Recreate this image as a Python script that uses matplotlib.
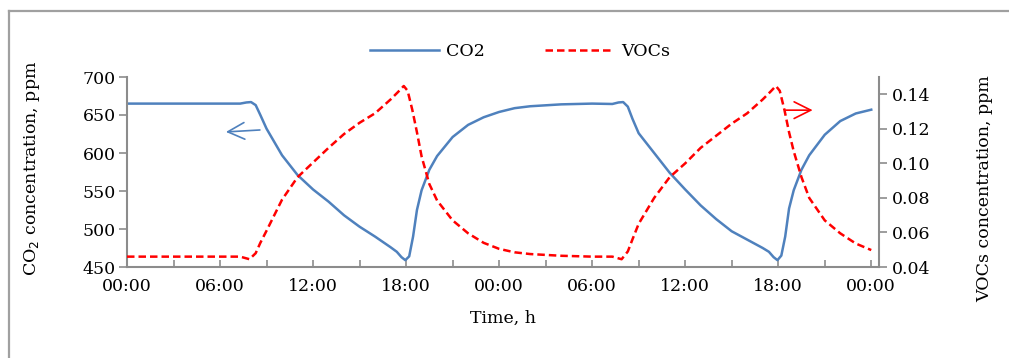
import numpy as np
import matplotlib
matplotlib.use("Agg")
import matplotlib.pyplot as plt
import matplotlib.ticker as ticker
from matplotlib.lines import Line2D

# time in hours from start, two days
co2_time = [0, 7.3, 7.7, 8.0, 8.3, 8.6, 9, 10, 11, 12, 13, 14, 15, 16, 17, 17.4, 17.7, 17.95,
            18.2, 18.45, 18.7, 19, 19.5, 20, 21, 22, 23, 24, 25, 26, 28, 30, 31.3, 31.7, 32.0,
            32.3, 32.6, 33, 34, 35, 36, 37, 38, 39, 40, 41, 41.4, 41.7, 41.95, 42.2, 42.45,
            42.7, 43, 43.5, 44, 45, 46, 47, 48]
co2_ppm = [665, 665, 666.5, 667, 663, 650, 632, 597, 571, 552, 536, 518, 503, 490, 476, 470, 463, 459,
           464, 490, 525, 551, 578, 596, 621, 637, 647, 654, 659, 661.5, 664, 665, 664.5, 666.5, 667,
           661, 645, 626, 600, 574, 552, 531, 513, 497, 486, 475, 470, 463, 459, 465, 490,
           527, 551, 578, 597, 624, 642, 652, 657]

voc_time = [0, 7.3, 7.9, 8.3, 8.6, 9, 10, 11, 12, 13, 14, 15, 16, 17, 17.5, 17.85, 18.1, 18.4,
            18.7, 19, 19.5, 20, 21, 22, 23, 24, 25, 26, 28, 30, 31.3, 31.9, 32.3, 32.6, 33, 34,
            35, 36, 37, 38, 39, 40, 41, 41.5, 41.85, 42.1, 42.4, 42.7, 43, 43.5, 44, 45, 46, 47, 48]
voc_ppm = [0.046, 0.046, 0.0445, 0.048, 0.054, 0.061, 0.079, 0.092, 0.1005, 0.109, 0.117, 0.1235,
           0.129, 0.137, 0.1415, 0.1448, 0.142, 0.131, 0.118, 0.104, 0.088, 0.0785, 0.067, 0.0595,
           0.054, 0.0505, 0.0485, 0.0475, 0.0465, 0.046, 0.046, 0.0445, 0.049, 0.056, 0.065, 0.080,
           0.092, 0.100, 0.109, 0.116, 0.123, 0.129, 0.137, 0.1415, 0.1448, 0.142, 0.131, 0.118,
           0.107, 0.092, 0.080, 0.067, 0.0595, 0.0536, 0.0498]

x_ticks = [0, 6, 12, 18, 24, 30, 36, 42, 48]
x_labels = ["00:00", "06:00", "12:00", "18:00", "00:00", "06:00", "12:00", "18:00", "00:00"]
co2_ticks = [450, 500, 550, 600, 650, 700]
voc_ticks = [0.04, 0.06, 0.08, 0.10, 0.12, 0.14]

BLUE = "#4F81BD"
RED = "#FF0000"
GREY = "#8C8C8C"

plt.rcParams["font.family"] = ["DejaVu Serif"]
plt.rcParams["font.size"] = 12.5

fig = plt.figure(figsize=(10.09, 3.58), dpi=100)
ax = fig.add_axes([127 / 1009, 1 - 267 / 358, 752 / 1009, 190 / 358])
ax2 = ax.twinx()

l1, = ax.plot(co2_time, co2_ppm, color=BLUE, lw=1.8, label="CO2")
l2, = ax2.plot(voc_time, voc_ppm, color=RED, lw=1.8, ls=(0, (3, 1.6)), label="VOCs")

ax.set_xlim(0, 48.5)
ax.set_ylim(450, 700)
ax2.set_ylim(0.04, 0.15)

ax.set_xticks(x_ticks)
ax.set_xticklabels(x_labels)
ax.xaxis.set_minor_locator(ticker.FixedLocator([3, 9, 15, 21, 27, 33, 39, 45]))
ax.set_yticks(co2_ticks)
ax2.set_yticks(voc_ticks)
ax2.set_yticklabels(["%.2f" % v for v in voc_ticks])

for a in (ax, ax2):
    for s in a.spines.values():
        s.set_visible(False)
ax.spines["left"].set_visible(True)
ax.spines["bottom"].set_visible(True)
ax2.spines["right"].set_visible(True)
for s in (ax.spines["left"], ax.spines["bottom"], ax2.spines["right"]):
    s.set_color(GREY)
    s.set_linewidth(1.5)

ax.tick_params(axis="x", which="both", direction="in", length=5, width=1.2, color=GREY, pad=8)
ax.tick_params(axis="y", direction="out", length=6, width=1.2, color=GREY, pad=2)
ax2.tick_params(axis="y", direction="out", length=6, width=1.2, color=GREY, pad=3)

# direction arrows
ax.annotate("", xy=(6.2, 627.5), xytext=(8.75, 630.5),
            arrowprops=dict(arrowstyle="->", color=BLUE, lw=1.2, mutation_scale=30))
ax2.annotate("", xy=(44.4, 0.1308), xytext=(42.3, 0.1308),
             arrowprops=dict(arrowstyle="->", color=RED, lw=1.2, mutation_scale=30))

fig.text(32 / 1009, 1 - 168 / 358, "CO$_2$ concentration, ppm", rotation=90,
         ha="center", va="center", fontsize=12.5)
fig.text(985 / 1009, 1 - 189 / 358, "VOCs concentration, ppm", rotation=90,
         ha="center", va="center", fontsize=12.5)
fig.text(503 / 1009, 1 - 318 / 358, "Time, h", ha="center", va="center", fontsize=12.5)

fig.legend([l1, l2], ["CO2", "VOCs"], loc="center", ncol=2, frameon=False,
           bbox_to_anchor=(520 / 1009, 1 - 52 / 358), handlelength=4,
           columnspacing=3.45, handletextpad=0.4, fontsize=12.5)

# open frame around chart area
fig.add_artist(Line2D([9 / 1009, 1], [1 - 11 / 358, 1 - 11 / 358], color="#A0A0A0", lw=1.6,
                      transform=fig.transFigure))
fig.add_artist(Line2D([9 / 1009, 9 / 1009], [0, 1 - 11 / 358], color="#A0A0A0", lw=1.6,
                      transform=fig.transFigure))

fig.savefig("out.png", dpi=100)
